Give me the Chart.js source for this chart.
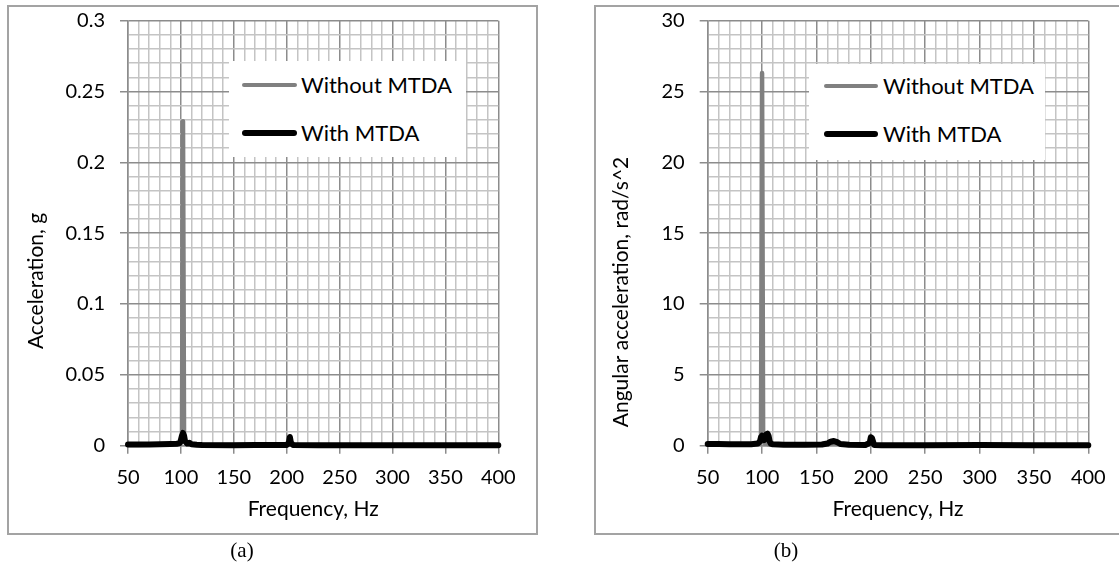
<!DOCTYPE html>
<html>
<head>
<meta charset="utf-8">
<script src="https://cdn.jsdelivr.net/npm/chart.js@4.4.1/dist/chart.umd.min.js"></script>
<style>
  body { margin: 0; background: #fff; width: 1119px; height: 565px; overflow: hidden; position: relative; }
  canvas { position: absolute; top: 0; }
  .frame { position: absolute; border: 2px solid #a3a3a3; box-sizing: border-box; pointer-events: none; }
  .legend { position: absolute; background: #fff; font-family: Lato, sans-serif; font-size: 22px; color: #000; }
  .legend .row { position: absolute; left: 0; height: 0; }
  .legend .line { position: absolute; border-radius: 3px; }
  .legend .txt { position: absolute; white-space: nowrap; transform: translateY(-50%); line-height: 1; }
  .cap { position: absolute; font-family: "Liberation Serif", serif; font-size: 21px; top: 538px; transform: translateX(-50%); }
</style>
</head>
<body>
<div class="frame" style="left:7px;top:5px;width:531px;height:530px"></div>
<div class="frame" style="left:594px;top:5px;width:540px;height:530px"></div>
<canvas id="chartA" width="560" height="565" style="left:0"></canvas>
<canvas id="chartB" width="559" height="565" style="left:560px"></canvas>
<div class="cap" style="left:242px">(a)</div>
<div class="cap" style="left:786px">(b)</div>
<script>
"use strict";

// frequency axis ticks (Hz)
var xTickLabels = [50, 100, 150, 200, 250, 300, 350, 400];
var yTickLabelsA = [0, 0.05, 0.1, 0.15, 0.2, 0.25, 0.3];
var yTickLabelsB = [0, 5, 10, 15, 20, 25, 30];
var seriesNames = ['Without MTDA', 'With MTDA'];

// (a) linear acceleration, g
var freqA    = [50, 60, 70, 80, 90, 96, 99, 100, 101, 102, 103, 104, 106, 108, 110, 115, 120, 150, 170, 200, 202, 203, 204, 206, 230, 260, 300, 350, 400];
var withoutA = [0.0005, 0.0005, 0.0006, 0.0006, 0.0008, 0.001, 0.0015, 0.002, 0.004, 0.229, 0.004, 0.003, 0.002, 0.0015, 0.001, 0.0008, 0.0006, 0.0005, 0.0005, 0.0005, 0.0006, 0.0007, 0.0006, 0.0005, 0.0004, 0.0004, 0.0004, 0.0004, 0.0004];
var withA    = [0.0008, 0.0008, 0.0009, 0.001, 0.0012, 0.0014, 0.0018, 0.004, 0.007, 0.009, 0.007, 0.003, 0.0015, 0.002, 0.001, 0.0007, 0.0005, 0.0004, 0.0005, 0.0005, 0.002, 0.0062, 0.002, 0.0005, 0.0004, 0.0004, 0.0004, 0.0003, 0.0003];

// (b) angular acceleration, rad/s^2
var freqB    = [50, 60, 70, 80, 90, 96, 98, 99, 100, 101, 102, 103, 104, 105, 106, 107, 108, 110, 120, 140, 155, 160, 163, 166, 169, 172, 180, 195, 199, 200, 201, 203, 210, 250, 300, 350, 400];
var withoutB = [0.1, 0.1, 0.1, 0.1, 0.1, 0.12, 0.15, 0.3, 26.3, 0.3, 0.2, 0.15, 0.15, 0.12, 0.1, 0.1, 0.08, 0.08, 0.06, 0.05, 0.06, 0.1, 0.15, 0.2, 0.15, 0.1, 0.05, 0.05, 0.1, 0.3, 0.2, 0.05, 0.04, 0.04, 0.04, 0.03, 0.03];
var withB    = [0.12, 0.12, 0.11, 0.1, 0.1, 0.15, 0.3, 0.6, 0.7, 0.55, 0.4, 0.5, 0.8, 0.85, 0.7, 0.3, 0.15, 0.1, 0.07, 0.06, 0.08, 0.15, 0.28, 0.33, 0.25, 0.12, 0.06, 0.05, 0.2, 0.6, 0.55, 0.05, 0.04, 0.04, 0.05, 0.03, 0.03];

var MAJOR = '#8c8c8c';
var MINOR = '#c4c4c4';
var GREY = '#808080';
var FONT = 'Lato, sans-serif';

function pts(xs, ys) {
  return xs.map(function (x, i) { return {x: x, y: ys[i]}; });
}

var yTitlePlugin = {
  id: 'yTitle',
  afterDraw: function (chart, args, opts) {
    var c = chart.ctx;
    c.save();
    c.translate(opts.x, opts.y);
    c.rotate(-Math.PI / 2);
    c.font = '21px ' + FONT;
    c.fillStyle = '#000';
    c.textAlign = 'center';
    c.textBaseline = 'middle';
    c.fillText(opts.text, 0, 0);
    c.restore();
  }
};

function isIn(list, v) {
  for (var i = 0; i < list.length; i++) {
    if (Math.abs(list[i] - v) < 1e-9) return true;
  }
  return false;
}

function makeChart(id, o) {
  var canvas = document.getElementById(id);
  var ctx = canvas.getContext('2d');
  var W = canvas.width, H = canvas.height;

  var chart = new Chart(ctx, {
    type: 'scatter',
    data: {
      datasets: [{
        label: seriesNames[0],
        data: pts(o.freq, o.without),
        showLine: true,
        borderColor: GREY,
        backgroundColor: GREY,
        borderWidth: 4.5,
        pointRadius: 0,
        tension: 0,
        borderJoinStyle: 'round',
        borderCapStyle: 'round',
        clip: 10,
        order: 2
      }, {
        label: seriesNames[1],
        data: pts(o.freq, o.withM),
        showLine: true,
        borderColor: '#000',
        backgroundColor: '#000',
        borderWidth: 6,
        pointRadius: 0,
        tension: 0,
        borderJoinStyle: 'round',
        borderCapStyle: 'round',
        clip: 10,
        order: 1
      }]
    },
    options: {
      responsive: false,
      animation: false,
      events: [],
      layout: {
        padding: {left: 0, top: o.area.top, right: W - o.area.right, bottom: 0}
      },
      plugins: {
        legend: {display: false},
        tooltip: {enabled: false},
        yTitle: {text: o.yTitle, x: o.yTitleX, y: o.yTitleY}
      },
      scales: {
        x: {
          type: 'linear',
          min: 50,
          max: 400,
          afterFit: function (s) {
            s.height = H - o.area.bottom;
            s.paddingLeft = 0;
            s.paddingRight = 0;
          },
          border: {color: MAJOR, width: 1.5},
          grid: {
            color: function (c) { return isIn(xTickLabels, c.tick.value) ? MAJOR : MINOR; },
            tickColor: function (c) { return isIn(xTickLabels, c.tick.value) ? MAJOR : 'rgba(0,0,0,0)'; },
            lineWidth: 1.5,
            tickLength: 8
          },
          ticks: {
            stepSize: 10,
            maxTicksLimit: 100,
            autoSkip: false,
            maxRotation: 0,
            padding: 12,
            color: '#000',
            font: {family: FONT, size: 20},
            callback: function (v) { return isIn(xTickLabels, v) ? String(v) : ''; }
          },
          title: {
            display: true,
            text: 'Frequency, Hz',
            color: '#000',
            font: {family: FONT, size: 21},
            padding: {top: 0, bottom: 43}
          }
        },
        y: {
          type: 'linear',
          min: 0,
          max: o.yMax,
          afterFit: function (s) {
            s.width = o.area.left;
            s.paddingTop = 0;
            s.paddingBottom = 0;
          },
          border: {color: MAJOR, width: 1.5},
          grid: {
            color: function (c) { return isIn(o.yTicks, c.tick.value) ? MAJOR : MINOR; },
            tickColor: function (c) { return isIn(o.yTicks, c.tick.value) ? MAJOR : 'rgba(0,0,0,0)'; },
            lineWidth: 1.5,
            tickLength: 8
          },
          ticks: {
            stepSize: o.yStep,
            maxTicksLimit: 100,
            autoSkip: false,
            padding: 15,
            color: '#000',
            font: {family: FONT, size: 20},
            callback: function (v) { return isIn(o.yTicks, v) ? String(+v.toFixed(2)) : ''; }
          }
        }
      }
    },
    plugins: [yTitlePlugin]
  });

  // legend box inside the plot, built from the datasets
  var box = document.createElement('div');
  box.className = 'legend';
  box.style.left = o.legend.left + 'px';
  box.style.top = o.legend.top + 'px';
  box.style.width = o.legend.width + 'px';
  box.style.height = o.legend.height + 'px';
  chart.data.datasets.forEach(function (ds, i) {
    var row = document.createElement('div');
    row.className = 'row';
    row.style.top = o.legend.rows[i] + 'px';
    var ln = document.createElement('span');
    ln.className = 'line';
    ln.style.left = o.legend.lineX + 'px';
    ln.style.width = o.legend.lineW + 'px';
    ln.style.height = ds.borderWidth + 'px';
    ln.style.top = (-ds.borderWidth / 2) + 'px';
    ln.style.background = ds.borderColor;
    var tx = document.createElement('span');
    tx.className = 'txt';
    tx.style.left = o.legend.textX + 'px';
    tx.textContent = ds.label;
    row.appendChild(ln);
    row.appendChild(tx);
    box.appendChild(row);
  });
  document.body.appendChild(box);
  return chart;
}

makeChart('chartA', {
  freq: freqA, without: withoutA, withM: withA,
  yMax: 0.3, yStep: 0.01, yTicks: yTickLabelsA,
  area: {left: 128, right: 498.3, top: 20.7, bottom: 445.7},
  yTitle: 'Acceleration, g', yTitleX: 36, yTitleY: 281,
  legend: {left: 229, top: 61, width: 237, height: 96, rows: [24, 72], lineX: 13, lineW: 55, textX: 72}
});

makeChart('chartB', {
  freq: freqB, without: withoutB, withM: withB,
  yMax: 30, yStep: 1, yTicks: yTickLabelsB,
  area: {left: 147.7, right: 528.3, top: 20.7, bottom: 445.7},
  yTitle: 'Angular acceleration, rad/s^2', yTitleX: 61.5, yTitleY: 292,
  legend: {left: 809, top: 64, width: 236, height: 96, rows: [22, 70], lineX: 15, lineW: 54, textX: 74}
});
</script>
</body>
</html>
